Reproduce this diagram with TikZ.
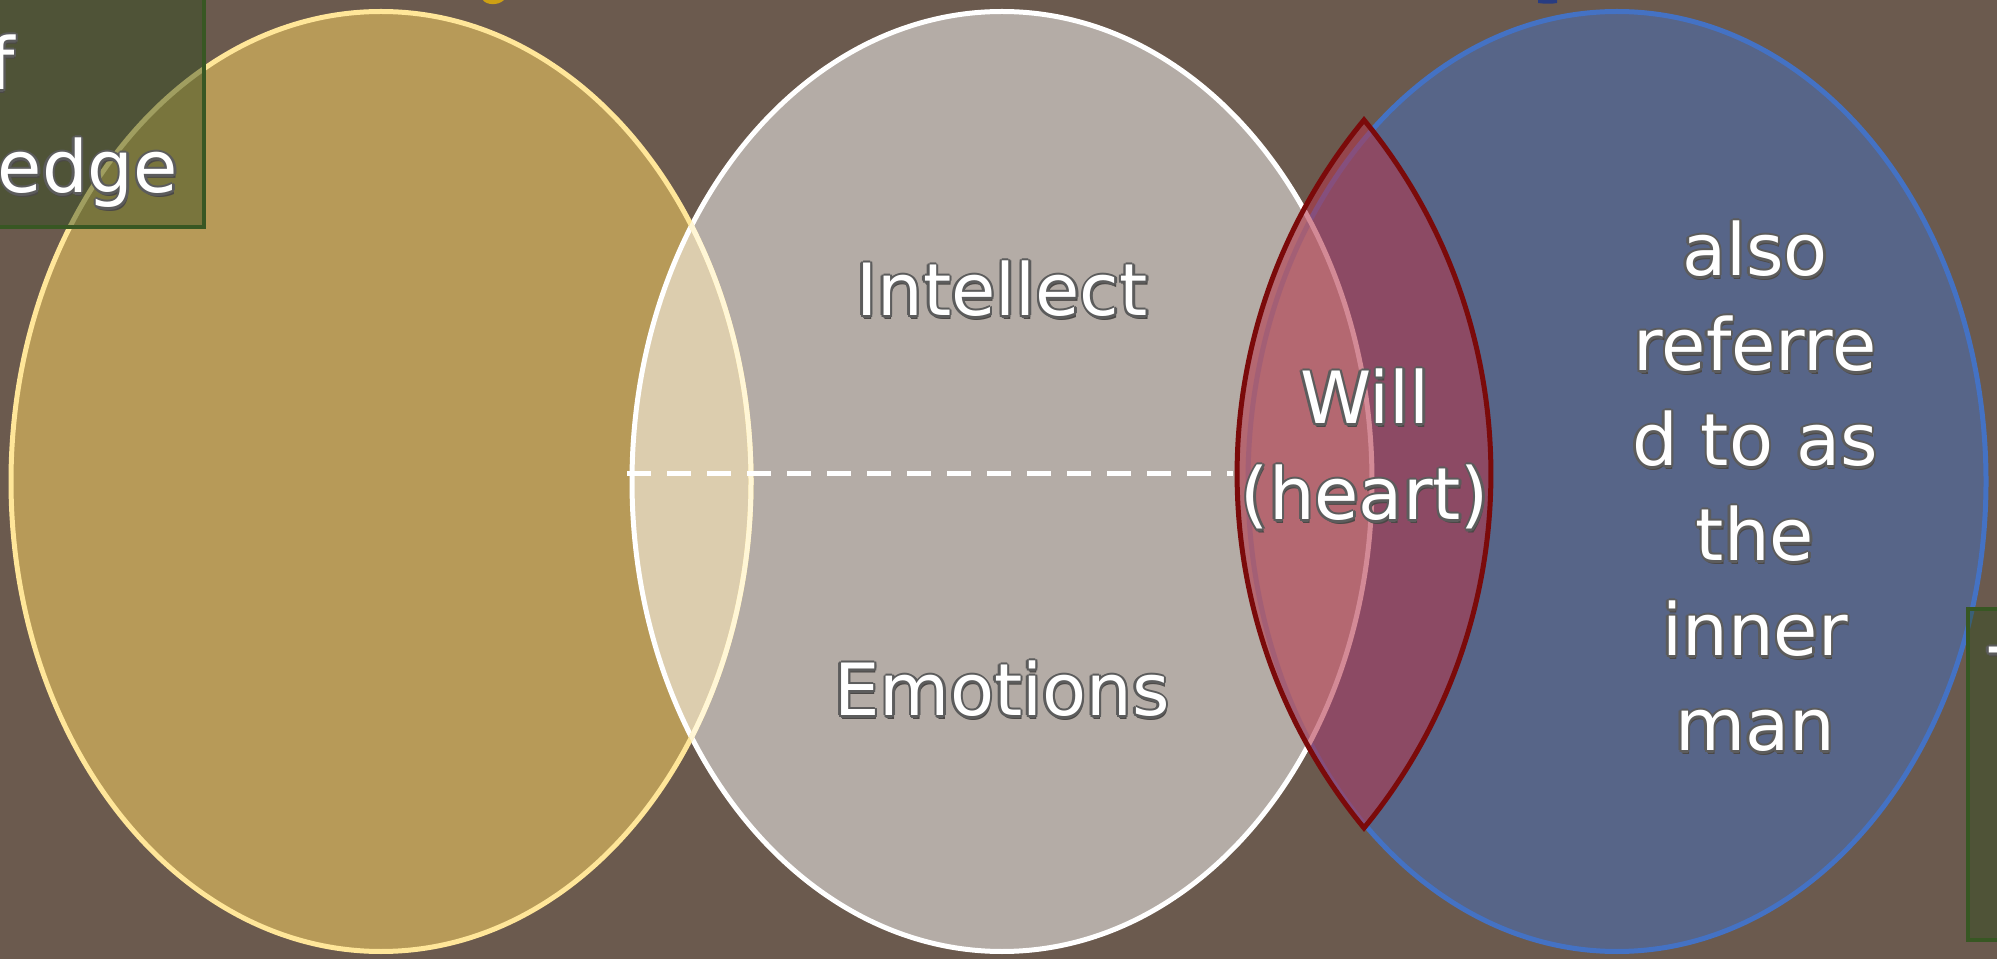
\documentclass[tikz,border=0pt]{standalone}
\usepackage{fontspec}
\newfontfamily\dv{DejaVu Sans}
\definecolor{bgc}{RGB}{107,90,78}
\definecolor{goldf}{RGB}{183,154,88}
\definecolor{goldb}{RGB}{255,230,153}
\definecolor{creamb}{RGB}{255,246,214}
\definecolor{greyf}{RGB}{180,172,166}
\definecolor{beigef}{RGB}{220,205,174}
\definecolor{bluef}{RGB}{87,101,136}
\definecolor{blueb}{RGB}{68,114,196}
\definecolor{lensf}{RGB}{180,55,75}
\definecolor{lensb}{RGB}{123,10,10}
\definecolor{boxf}{RGB}{48,75,30}
\definecolor{boxb}{RGB}{56,87,35}
\definecolor{olc}{RGB}{92,92,92}
\definecolor{shc}{RGB}{75,72,70}
\definecolor{titley}{RGB}{205,160,20}
\definecolor{titleb}{RGB}{40,60,130}
\newcommand\olt[1]{{\setbox0=\hbox{\color{olc}#1}\setbox2=\hbox{\color{shc}#1}%
\rlap{\kern1.5pt\lower3.5pt\copy2}%
\rlap{\kern-2.5pt\copy0}\rlap{\kern2.5pt\copy0}%
\rlap{\raise2.5pt\copy0}\rlap{\lower2.5pt\copy0}%
\rlap{\kern-1.8pt\raise1.8pt\copy0}\rlap{\kern1.8pt\raise1.8pt\copy0}%
\rlap{\kern-1.8pt\lower1.8pt\copy0}\rlap{\kern1.8pt\lower1.8pt\copy0}%
\color{white}#1}}
\begin{document}
\begin{tikzpicture}[x=1pt,y=1pt,
  lbl/.style={font=\dv\fontsize{72}{95}\selectfont, inner sep=0pt, anchor=base},
  ell/.style={line width=5pt},
  boxstyle/.style={fill=boxf, fill opacity=0.46, draw=boxb, draw opacity=1, line width=4pt}]
\useasboundingbox (0,0) rectangle (1997,959);
\clip (0,0) rectangle (1997,959);
\fill[bgc] (0,0) rectangle (1997,959);
% fragments of a title above the picture
\fill[titley] (483,959) .. controls (486,954) and (498,953) .. (504,959) -- cycle;
\fill[titleb] (1538,959) -- (1538,956) .. controls (1545,955) and (1552,955) .. (1557,956) -- (1557,959) -- cycle;
% ellipses
\coordinate (cl) at (381,477.5);
\coordinate (cm) at (1002,477.5);
\coordinate (cr) at (1617,477.5);
\fill[goldf] (cl) ellipse [x radius=370, y radius=470];
\fill[bluef] (cr) ellipse [x radius=369, y radius=470];
\draw[ell, blueb] (cr) ellipse [x radius=369, y radius=470];
\fill[greyf] (cm) ellipse [x radius=370, y radius=470];
\begin{scope}
  \clip (cl) ellipse [x radius=370, y radius=470];
  \fill[beigef] (cm) ellipse [x radius=370, y radius=470];
\end{scope}
\begin{scope}
  \clip (cm) ellipse [x radius=370, y radius=470];
  \draw[ell, blueb, opacity=0.35] (cr) ellipse [x radius=369, y radius=470];
\end{scope}
\draw[ell, white] (cm) ellipse [x radius=370, y radius=470];
\draw[ell, goldb] (cl) ellipse [x radius=370, y radius=470];
\begin{scope}
  \clip (cm) ellipse [x radius=372, y radius=472];
  \draw[ell, creamb] (cl) ellipse [x radius=370, y radius=470];
\end{scope}
% dashed divider
\coordinate (dl) at (627,485);
\coordinate (dr) at (1233,485);
\draw[white, line width=5pt, dash pattern=on 24pt off 16pt] (dl) -- (dr);
% will lens
\path[fill=lensf, fill opacity=0.58, draw=lensb, line width=5pt]
  (1364,839) arc[start angle=140.54, end angle=219.46, radius=557]
  arc[start angle=-39.46, end angle=39.46, radius=557] -- cycle;
% boxes
\draw[boxstyle] (-20,732) rectangle (204,975);
\draw[boxstyle] (1968,19) rectangle (2020,350);
% texts
\node[lbl, anchor=base east] (tf) at (15,869) {\olt{f}};
\node[lbl, anchor=base east] (tledge) at (178,766) {\olt{ledge}};
\node[lbl, anchor=base west] (tT) at (1989,259) {\olt{T}};
\node[lbl] (intellect) at (1002,643) {\olt{Intellect}};
\node[lbl] (emotions) at (1002,243) {\olt{Emotions}};
\node[lbl] (will) at (1365,535) {\olt{Will}};
\node[lbl] (heart) at (1365,439) {\olt{(heart)}};
\node[lbl] (r1) at (1755,683) {\olt{also}};
\node[lbl] (r2) at (1755,588) {\olt{referre}};
\node[lbl] (r3) at (1755,493) {\olt{d to as}};
\node[lbl] (r4) at (1755,398) {\olt{the}};
\node[lbl] (r5) at (1755,303) {\olt{inner}};
\node[lbl] (r6) at (1755,208) {\olt{man}};
\end{tikzpicture}
\end{document}
